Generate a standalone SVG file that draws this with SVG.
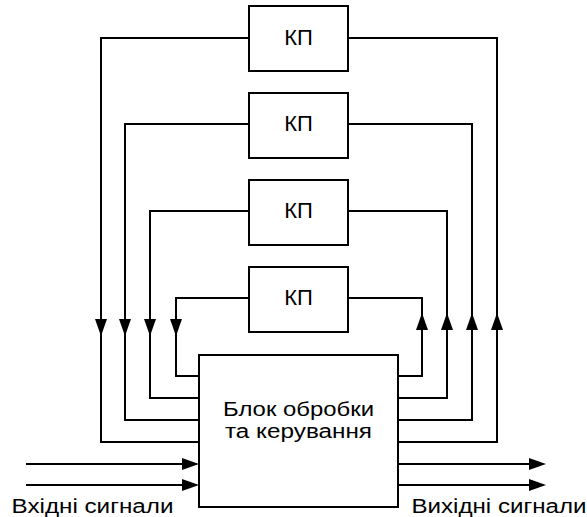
<svg xmlns="http://www.w3.org/2000/svg" width="587" height="517" viewBox="0 0 587 517">
<style>
.box{fill:#fff;stroke:#000;stroke-width:2}
.ln{fill:none;stroke:#000;stroke-width:2}
.t{font-family:"Liberation Sans",Arial,sans-serif;fill:#000;text-anchor:middle}
.ah{fill:#000}
</style>
<defs>
<path id="ah" class="ah" d="M0,0 L-17,-6 L-17,6 Z"/>
</defs>
<rect width="587" height="517" fill="#fff"/>
<g id="connectors">
<path class="ln" d="M249,38 H101 V442 H199"/>
<path class="ln" d="M249,124 H125 V420 H199"/>
<path class="ln" d="M249,211 H150 V398 H199"/>
<path class="ln" d="M249,298 H176 V376 H199"/>
<path class="ln" d="M348,38 H497 V442 H398"/>
<path class="ln" d="M348,124 H472 V420 H398"/>
<path class="ln" d="M348,211 H447 V398 H398"/>
<path class="ln" d="M348,298 H422 V376 H398"/>
<path class="ln" d="M26,464 H190 M26,485 H190 M398,464 H535 M398,485 H535"/>
<use href="#ah" transform="translate(101,336) rotate(90)"/>
<use href="#ah" transform="translate(125,336) rotate(90)"/>
<use href="#ah" transform="translate(150,336) rotate(90)"/>
<use href="#ah" transform="translate(176,336) rotate(90)"/>
<use href="#ah" transform="translate(422,313) rotate(-90)"/>
<use href="#ah" transform="translate(447,313) rotate(-90)"/>
<use href="#ah" transform="translate(472,313) rotate(-90)"/>
<use href="#ah" transform="translate(497,313) rotate(-90)"/>
<use href="#ah" transform="translate(199,464)"/>
<use href="#ah" transform="translate(199,485)"/>
<use href="#ah" transform="translate(546,464)"/>
<use href="#ah" transform="translate(546,485)"/>
</g>
<g id="kp1"><rect class="box" x="249" y="6" width="99" height="65"/><text class="t" x="298.5" y="45" font-size="22">КП</text></g>
<g id="kp2"><rect class="box" x="249" y="93" width="99" height="65"/><text class="t" x="298.5" y="131" font-size="22">КП</text></g>
<g id="kp3"><rect class="box" x="249" y="180" width="99" height="65"/><text class="t" x="298.5" y="218" font-size="22">КП</text></g>
<g id="kp4"><rect class="box" x="249" y="267" width="99" height="65"/><text class="t" x="298.5" y="305" font-size="22">КП</text></g>
<g id="block"><rect class="box" x="199" y="355" width="199" height="152"/>
<text class="t" x="298.5" y="416" font-size="20" textLength="151" lengthAdjust="spacingAndGlyphs">Блок обробки</text>
<text class="t" x="298.5" y="438" font-size="20" textLength="147" lengthAdjust="spacingAndGlyphs">та керування</text>
</g>
<g id="labels">
<text class="t" x="92.5" y="513" font-size="20" textLength="162" lengthAdjust="spacingAndGlyphs">Вхідні сигнали</text>
<text class="t" x="499" y="513" font-size="20" textLength="175" lengthAdjust="spacingAndGlyphs">Вихідні сигнали</text>
</g>
</svg>
